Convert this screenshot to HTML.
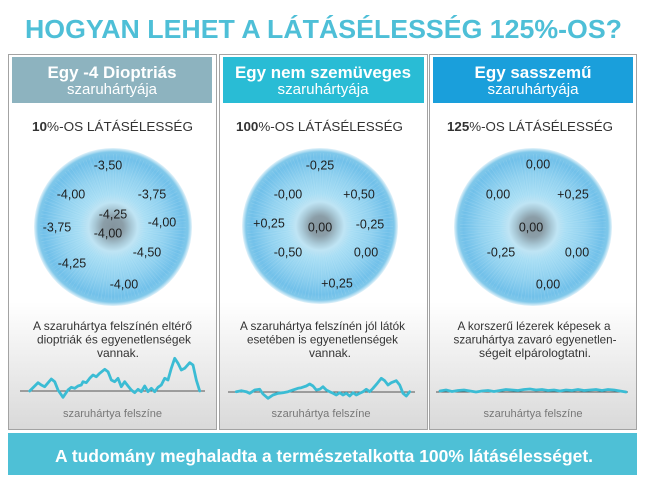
<!DOCTYPE html>
<html>
<head>
<meta charset="utf-8">
<style>
  html, body { margin:0; padding:0; background:#ffffff; }
  svg { display:block; }
  text { font-family: "Liberation Sans", Arial, sans-serif; }
</style>
</head>
<body>
<svg width="646" height="486" viewBox="0 0 646 486" xmlns="http://www.w3.org/2000/svg">
  <defs>
    <linearGradient id="pg" x1="0" y1="0" x2="0" y2="1">
      <stop offset="0" stop-color="#ffffff"/>
      <stop offset="0.66" stop-color="#ffffff"/>
      <stop offset="1" stop-color="#d9d9d9"/>
    </linearGradient>
    <radialGradient id="iris" cx="0.5" cy="0.5" r="0.5">
      <stop offset="0" stop-color="#84949d"/>
      <stop offset="0.13" stop-color="#8b9ea8"/>
      <stop offset="0.23" stop-color="#a8c8d6"/>
      <stop offset="0.31" stop-color="#bfe4f4"/>
      <stop offset="0.42" stop-color="#aadff5"/>
      <stop offset="0.66" stop-color="#92d2f0"/>
      <stop offset="0.88" stop-color="#72c1ea"/>
      <stop offset="0.95" stop-color="#80c8ea"/>
      <stop offset="1" stop-color="#e4f3fa"/>
    </radialGradient>
    <g id="streaks">
      <circle cx="0" cy="0" r="50" fill="none" stroke="#ffffff" stroke-opacity="0.12" stroke-width="46" stroke-dasharray="0.5 1.9"/>
      <circle cx="0" cy="0" r="50" fill="none" stroke="#4aa6d6" stroke-opacity="0.07" stroke-width="46" stroke-dasharray="0.6 2.7" stroke-dashoffset="1.3"/>
    </g>
  </defs>

  <!-- Title -->
  <text x="323.5" y="38" text-anchor="middle" font-size="26" font-weight="bold" fill="#4ebfd7" textLength="597" lengthAdjust="spacingAndGlyphs">HOGYAN LEHET A LÁTÁSÉLESSÉG 125%-OS?</text>

  <!-- Panels -->
  <rect x="8.5" y="54.5" width="208" height="375" fill="url(#pg)" stroke="#a3a3a3" stroke-width="1"/>
  <rect x="219.5" y="54.5" width="208" height="375" fill="url(#pg)" stroke="#a3a3a3" stroke-width="1"/>
  <rect x="429.5" y="54.5" width="207" height="375" fill="url(#pg)" stroke="#a3a3a3" stroke-width="1"/>

  <!-- Headers -->
  <rect x="12" y="57" width="200" height="46" fill="#8db3bf"/>
  <rect x="223" y="57" width="201" height="46" fill="#29bcd5"/>
  <rect x="433" y="57" width="200" height="46" fill="#1a9fdb"/>

  <text x="112" y="78" text-anchor="middle" font-size="17" font-weight="bold" fill="#ffffff" textLength="129" lengthAdjust="spacingAndGlyphs">Egy -4 Dioptriás</text>
  <text x="112" y="94" text-anchor="middle" font-size="15" fill="#ffffff" textLength="90" lengthAdjust="spacingAndGlyphs">szaruhártyája</text>

  <text x="323" y="78" text-anchor="middle" font-size="17" font-weight="bold" fill="#ffffff" textLength="176" lengthAdjust="spacingAndGlyphs">Egy nem szemüveges</text>
  <text x="323" y="94" text-anchor="middle" font-size="15" fill="#ffffff" textLength="91" lengthAdjust="spacingAndGlyphs">szaruhártyája</text>

  <text x="533" y="78" text-anchor="middle" font-size="17" font-weight="bold" fill="#ffffff" textLength="117" lengthAdjust="spacingAndGlyphs">Egy sasszemű</text>
  <text x="533" y="94" text-anchor="middle" font-size="15" fill="#ffffff" textLength="91" lengthAdjust="spacingAndGlyphs">szaruhártyája</text>

  <!-- Acuity labels -->
  <text x="112.5" y="131" text-anchor="middle" font-size="13" fill="#333333" textLength="161" lengthAdjust="spacingAndGlyphs"><tspan font-weight="bold">10</tspan>%-OS LÁTÁSÉLESSÉG</text>
  <text x="319.5" y="131" text-anchor="middle" font-size="13" fill="#333333" textLength="167" lengthAdjust="spacingAndGlyphs"><tspan font-weight="bold">100</tspan>%-OS LÁTÁSÉLESSÉG</text>
  <text x="530" y="131" text-anchor="middle" font-size="13" fill="#333333" textLength="166" lengthAdjust="spacingAndGlyphs"><tspan font-weight="bold">125</tspan>%-OS LÁTÁSÉLESSÉG</text>

  <!-- Eyes -->
  <circle cx="113" cy="227" r="79" fill="url(#iris)"/>
  <use href="#streaks" transform="translate(113,227)"/>
  <circle cx="320" cy="226" r="78" fill="url(#iris)"/>
  <use href="#streaks" transform="translate(320,226)"/>
  <circle cx="533" cy="227" r="79" fill="url(#iris)"/>
  <use href="#streaks" transform="translate(533,227)"/>

  <g font-size="12.5" fill="#1e1e1e" text-anchor="middle">
    <text x="108" y="169.5">-3,50</text>
    <text x="71" y="198.5">-4,00</text>
    <text x="152" y="198.5">-3,75</text>
    <text x="113" y="218.5">-4,25</text>
    <text x="108" y="237.5">-4,00</text>
    <text x="162" y="226.5">-4,00</text>
    <text x="57" y="231.5">-3,75</text>
    <text x="147" y="256.5">-4,50</text>
    <text x="72" y="267.5">-4,25</text>
    <text x="124" y="288.5">-4,00</text>

    <text x="320" y="169.5">-0,25</text>
    <text x="288" y="198.5">-0,00</text>
    <text x="359" y="198.5">+0,50</text>
    <text x="269" y="227.5">+0,25</text>
    <text x="320" y="231.5">0,00</text>
    <text x="370" y="228.5">-0,25</text>
    <text x="288" y="256.5">-0,50</text>
    <text x="366" y="256.5">0,00</text>
    <text x="337" y="287.5">+0,25</text>

    <text x="538" y="168.5">0,00</text>
    <text x="498" y="198.5">0,00</text>
    <text x="573" y="198.5">+0,25</text>
    <text x="531" y="231.5">0,00</text>
    <text x="501" y="256.5">-0,25</text>
    <text x="577" y="256.5">0,00</text>
    <text x="548" y="288.5">0,00</text>
  </g>

  <!-- Descriptions -->
  <g font-size="12" fill="#333333" text-anchor="middle">
    <text x="112.5" y="330" textLength="159" lengthAdjust="spacingAndGlyphs">A szaruhártya felszínén eltérő</text>
    <text x="114" y="343.5" textLength="154" lengthAdjust="spacingAndGlyphs">dioptriák és egyenetlenségek</text>
    <text x="118" y="357">vannak.</text>

    <text x="322.5" y="330" textLength="165" lengthAdjust="spacingAndGlyphs">A szaruhártya felszínén jól látók</text>
    <text x="322.5" y="343.5" textLength="151" lengthAdjust="spacingAndGlyphs">esetében is egyenetlenségek</text>
    <text x="330" y="357">vannak.</text>

    <text x="534" y="330" textLength="153" lengthAdjust="spacingAndGlyphs">A korszerű lézerek képesek a</text>
    <text x="535" y="343.5" textLength="163" lengthAdjust="spacingAndGlyphs">szaruhártya zavaró egyenetlen-</text>
    <text x="535" y="357" textLength="112" lengthAdjust="spacingAndGlyphs">ségeit elpárologtatni.</text>
  </g>

  <!-- Surface baselines -->
  <line x1="20" y1="391" x2="205" y2="391" stroke="#555555" stroke-width="1"/>
  <line x1="228" y1="392" x2="415" y2="392" stroke="#555555" stroke-width="1"/>
  <line x1="436" y1="392" x2="628" y2="392" stroke="#555555" stroke-width="1"/>

  <!-- Curves -->
  <polyline fill="none" stroke="#3bbcd4" stroke-width="2.8" stroke-linejoin="round" stroke-linecap="round"
    points="29.7,391 38,382.7 41.3,385 44.7,386.7 51.3,379 54.7,381.7 58,390 63,397.3 68,390 71.3,387.3 74.7,388.3 78,386 81.3,385 83,381.7 86.3,382.7 89.7,378.3 93,375 96.3,376.7 99.7,373.3 104.7,369.3 108,371.7 111.3,380 114.7,381.7 118,378.3 121.3,386.7 124.7,381.7 128,386 131.3,390 134.7,392.7 138,389.3 141.3,391.7 144.7,386 148,391.7 151.3,388.3 154.7,391.7 158,387.3 161.3,385 164.7,378.3 168,380 171.3,368.3 174.7,358.3 178,363.3 181.3,370 184.7,368.3 189.7,362.7 193,365 196.3,380 199.7,391"/>
  <polyline fill="none" stroke="#3bbcd4" stroke-width="2.8" stroke-linejoin="round" stroke-linecap="round"
    points="236.3,391.7 241.3,390.7 246.3,391.7 249.7,393.3 254.7,390 259.7,389.3 263,394 268,398.3 273,395 278,393.3 283,392.7 288,391.7 293,390 298,388.3 301.3,387.7 306.3,386 309.7,384 313,386 316.3,390 319.7,389.3 323,386.7 326.3,390 329.7,391.7 333,393.3 336.3,395 339.7,392.7 343,395 346.3,393.3 349.7,396 353,392.7 356.3,395 359.7,393.3 363,391.7 366.3,389.3 369.7,391.7 373,388.3 377.3,383.3 381.3,378.3 384.7,380.7 388,385 391.3,382.7 396.3,380.7 399.7,385 403,393.3 406.3,396 409.7,391.7"/>
  <polyline fill="none" stroke="#3bbcd4" stroke-width="2.8" stroke-linejoin="round" stroke-linecap="round"
    points="440,391 446,390 452,391.5 458,390.5 464,390 470,391 476,392 482,391 488,390.5 494,391.5 500,390.5 506,389.5 512,390 518,390.5 524,389.5 530,389 536,390 542,389.5 548,390.5 554,390 560,391 566,390 572,390.5 578,389.5 584,390.5 590,390 596,389.5 602,390.5 608,389.5 614,390 620,391 626,392"/>

  <!-- Surface labels -->
  <g font-size="11" fill="#777777" text-anchor="middle">
    <text x="112.5" y="417" textLength="99" lengthAdjust="spacingAndGlyphs">szaruhártya felszíne</text>
    <text x="321" y="417" textLength="99" lengthAdjust="spacingAndGlyphs">szaruhártya felszíne</text>
    <text x="533" y="417" textLength="99" lengthAdjust="spacingAndGlyphs">szaruhártya felszíne</text>
  </g>

  <!-- Bottom banner -->
  <rect x="8" y="433" width="629" height="42" fill="#4ec0d6"/>
  <text x="324" y="462" text-anchor="middle" font-size="17.5" font-weight="bold" fill="#ffffff" textLength="538" lengthAdjust="spacingAndGlyphs">A tudomány meghaladta a természetalkotta 100% látásélességet.</text>
</svg>
</body>
</html>
